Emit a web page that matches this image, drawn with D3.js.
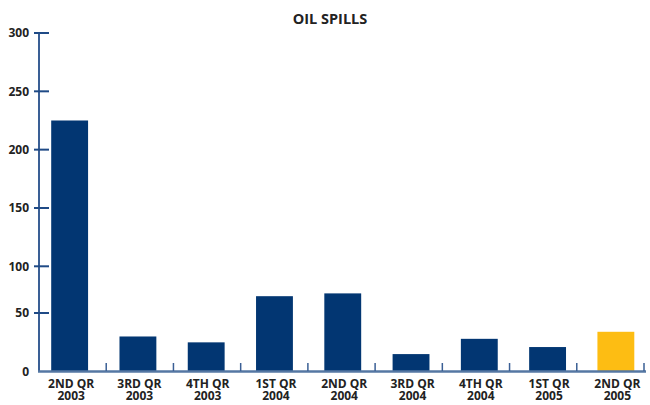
<!DOCTYPE html>
<html><head><meta charset="utf-8">
<script src="https://cdn.jsdelivr.net/npm/d3@7"></script>
<style>
body{margin:0;background:#fff;}
text{font-family:"Open Sans",sans-serif;font-weight:bold;fill:#222;}
</style></head>
<body><svg id="c" width="650" height="405"></svg>
<script>
const categories = [["2ND QR","2003"],["3RD QR","2003"],["4TH QR","2003"],["1ST QR","2004"],["2ND QR","2004"],["3RD QR","2004"],["4TH QR","2004"],["1ST QR","2005"],["2ND QR","2005"]];
const values = [225, 30, 25, 68, 71, 15, 28, 21, 34];
const highlight = [false,false,false,false,false,false,false,false,true];
const yTicks = [0, 50, 100, 150, 200, 250, 300];
const title = "OIL SPILLS";

const svg = d3.select("#c");
const keys = categories.map((d,i)=>i);
// tick positions (band boundaries) and bar/label positions
const xAxisScale = d3.scaleBand().domain(keys).range([39, 644]);
const x = d3.scaleBand().domain(keys).range([35.5, 650]).paddingInner(0.46).paddingOuter(0.23);
const y = d3.scaleLinear().domain([0, 50, 100, 300]).range([371.7, 313, 266.3, 33]);

svg.append("text").attr("x", 330).attr("y", 23.5).attr("text-anchor","middle")
  .style("font-size","14.5px").text(title);

// bars
svg.selectAll("rect.bar").data(values).join("rect").attr("class","bar")
  .attr("x",(d,i)=>x(i)).attr("width",x.bandwidth())
  .attr("y",d=>y(d)).attr("height",d=>y(0)-y(d))
  .attr("fill",(d,i)=>highlight[i]?"#FDBD13":"#023672");

// y axis
const ya = svg.append("g");
ya.append("line").attr("x1",39).attr("x2",39).attr("y1",y(300)).attr("y2",y(0))
  .attr("stroke","#3a5f95").attr("stroke-width",2);
ya.selectAll("line.t").data(yTicks.filter(d=>d>0)).join("line").attr("class","t")
  .attr("x1",34).attr("x2",49).attr("y1",d=>y(d)).attr("y2",d=>y(d))
  .attr("stroke","#1f4a86").attr("stroke-width",2);
ya.selectAll("text").data(yTicks).join("text")
  .attr("x",29).attr("y",d=>y(d)).attr("dy","0.35em").attr("text-anchor","end")
  .style("font-size","12px").text(d=>d);

// x axis
const xa = svg.append("g");
xa.append("line").attr("x1",38).attr("x2",646).attr("y1",371.5).attr("y2",371.5)
  .attr("stroke","#5577a3").attr("stroke-width",2.5);
xa.selectAll("line.t").data(keys).join("line").attr("class","t")
  .attr("x1",d=>xAxisScale(d)+xAxisScale.step()).attr("x2",d=>xAxisScale(d)+xAxisScale.step())
  .attr("y1",363).attr("y2",371).attr("stroke","#3a5f95").attr("stroke-width",1.5);
const lab = xa.selectAll("text").data(categories).join("text")
  .attr("text-anchor","middle").style("font-size","12px");
lab.append("tspan").attr("x",(d,i)=>x(i)+x.bandwidth()/2+1.5).attr("y",387.5).text(d=>d[0]);
lab.append("tspan").attr("x",(d,i)=>x(i)+x.bandwidth()/2+1.5).attr("y",399.5).text(d=>d[1]);
</script></body></html>
